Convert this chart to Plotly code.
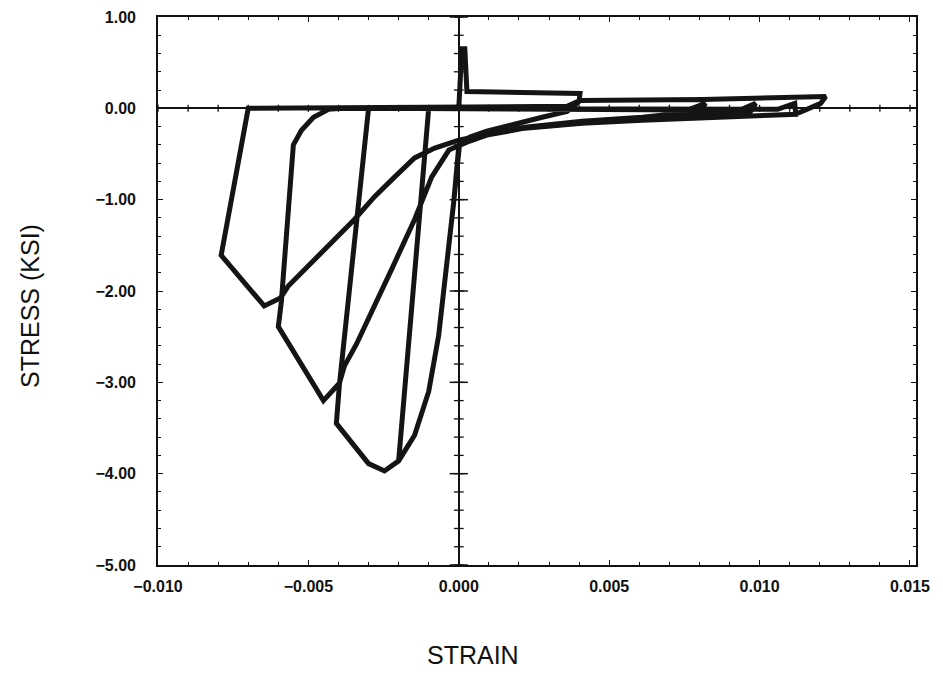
import numpy as np
import plotly.graph_objects as go

# Strain (in units of 1e-3) and stress (ksi) of the hysteresis path
STRAIN_MILLI = [
    0.00, 0.10, 0.20, 0.27, 2.10, 4.03, 4.00, 3.60, 2.77, 1.77, 0.93, 0.37, 0.03,
    -0.17, -0.40, -0.67, -1.00, -1.47, -1.83, -2.00,
    -1.00, 7.67, 8.20, 8.03, 6.10, 4.10, 2.20, 0.93, 0.27, 0.00,
    -0.17, -0.40, -0.67, -1.00, -1.47, -1.83, -2.00, -2.47, -3.00, -4.07,
    -3.97, -3.00, 9.33, 9.87, 9.70, 8.10, 6.10, 4.10, 2.20, 0.93, 0.27, -0.33,
    -0.90, -1.47, -2.23, -2.90, -3.40, -3.80, -3.97, -4.50, -6.00,
    -5.90, -5.50, -5.23, -4.83, -4.33, -3.90,
    10.60, 11.17, 11.20, 8.10, 6.10, 4.10, 2.20, 1.10, 0.43, 0.00,
    -0.80, -1.47, -2.13, -2.80, -3.47, -4.13, -4.90, -5.67, -5.93, -6.47, -7.90,
    -7.00, 3.60, 4.03, 8.10, 12.20, 12.03, 11.27,
]
STRESS_KSI = [
    0.00, 0.652, 0.652, 0.185, 0.174, 0.163, 0.076, -0.033, -0.098, -0.174, -0.250, -0.315, -0.380,
    -1.03, -1.76, -2.49, -3.10, -3.58, -3.77, -3.86,
    0.00, -0.010, 0.054, -0.033, -0.098, -0.141, -0.207, -0.283, -0.348, -0.413,
    -1.03, -1.76, -2.49, -3.10, -3.58, -3.77, -3.86, -3.97, -3.89, -3.45,
    -3.03, 0.00, -0.022, 0.054, -0.033, -0.076, -0.109, -0.152, -0.217, -0.293, -0.370, -0.457,
    -0.75, -1.217, -1.76, -2.23, -2.58, -2.82, -3.01, -3.20, -2.39,
    -2.12, -0.40, -0.24, -0.098, -0.011, 0.000,
    -0.010, 0.054, -0.065, -0.098, -0.130, -0.163, -0.217, -0.272, -0.315, -0.348,
    -0.435, -0.543, -0.75, -0.967, -1.217, -1.435, -1.685, -1.946, -2.076, -2.163, -1.609,
    0.000, 0.022, 0.087, 0.098, 0.130, 0.054, -0.054,
]

X_TICKS = [-0.010, -0.005, 0.000, 0.005, 0.010, 0.015]
Y_TICKS = [1.0, 0.0, -1.0, -2.0, -3.0, -4.0, -5.0]
X_TITLE = "STRAIN"
Y_TITLE = "STRESS (KSI)"

strain = np.array(STRAIN_MILLI) / 1000.0
stress = np.array(STRESS_KSI)

fig = go.Figure()

# tick marks drawn along the zero axes (decoration derived from tick spacing)
x_minor = np.round(np.arange(-0.010, 0.0151, 0.001), 4)
y_minor = np.round(np.arange(-5.0, 1.01, 0.2), 2)
y_major = np.array(Y_TICKS)

fig.add_trace(go.Scatter(
    x=x_minor, y=np.zeros_like(x_minor), mode="markers", hoverinfo="skip",
    marker=dict(symbol="line-ns", size=5, line=dict(width=1.3, color="#111")),
    showlegend=False))
fig.add_trace(go.Scatter(
    x=np.zeros_like(y_minor), y=y_minor, mode="markers", hoverinfo="skip",
    marker=dict(symbol="line-ew", size=7, line=dict(width=1.3, color="#111")),
    showlegend=False))
fig.add_trace(go.Scatter(
    x=np.zeros_like(y_major), y=y_major, mode="markers", hoverinfo="skip",
    marker=dict(symbol="line-ew", size=13, line=dict(width=1.5, color="#111")),
    showlegend=False))

fig.add_trace(go.Scatter(
    x=strain, y=stress, mode="lines",
    line=dict(color="#141414", width=5, shape="linear"),
    showlegend=False, hoverinfo="skip"))

tickfont = dict(family="Liberation Sans, Arial, sans-serif", size=16, color="#111", weight="bold")
titlefont = dict(family="Liberation Sans, Arial, sans-serif", size=25, color="#111")

# page body has an 8px margin; the figure is sized so the frame lands where the reference has it
fig.update_layout(
    width=935, height=665,
    margin=dict(l=150, r=27, t=9, b=108, autoexpand=False),
    paper_bgcolor="white", plot_bgcolor="white",
    xaxis=dict(
        range=[-0.010, 0.0152], tickvals=X_TICKS, tickformat=".3f",
        showgrid=False, zeroline=True, zerolinecolor="#111", zerolinewidth=1.6,
        showline=True, linecolor="#111", linewidth=1.6, mirror="allticks",
        ticks="inside", ticklen=5, tickwidth=1.3, tickcolor="#111",
        minor=dict(dtick=0.001, tick0=0, ticks="inside", ticklen=3, tickwidth=1, tickcolor="#111"),
        tickfont=tickfont, ticklabelstandoff=6,
    ),
    yaxis=dict(
        range=[-5.0, 1.0], tickvals=Y_TICKS, tickformat=".2f",
        showgrid=False, zeroline=True, zerolinecolor="#111", zerolinewidth=1.6,
        showline=True, linecolor="#111", linewidth=1.6, mirror="allticks",
        ticks="inside", ticklen=5, tickwidth=1.3, tickcolor="#111",
        minor=dict(dtick=0.2, tick0=0, ticks="inside", ticklen=3, tickwidth=1, tickcolor="#111"),
        tickfont=tickfont, ticklabelstandoff=17,
    ),
    annotations=[
        dict(text=X_TITLE, xref="paper", yref="paper", x=0.4156, y=-0.1642,
             xanchor="center", yanchor="middle", showarrow=False, font=titlefont),
        dict(text=Y_TITLE, xref="paper", yref="paper", x=-0.1689, y=0.4726,
             xanchor="center", yanchor="middle", showarrow=False, font=titlefont,
             textangle=-90),
    ],
)

fig.write_html("out.html")
